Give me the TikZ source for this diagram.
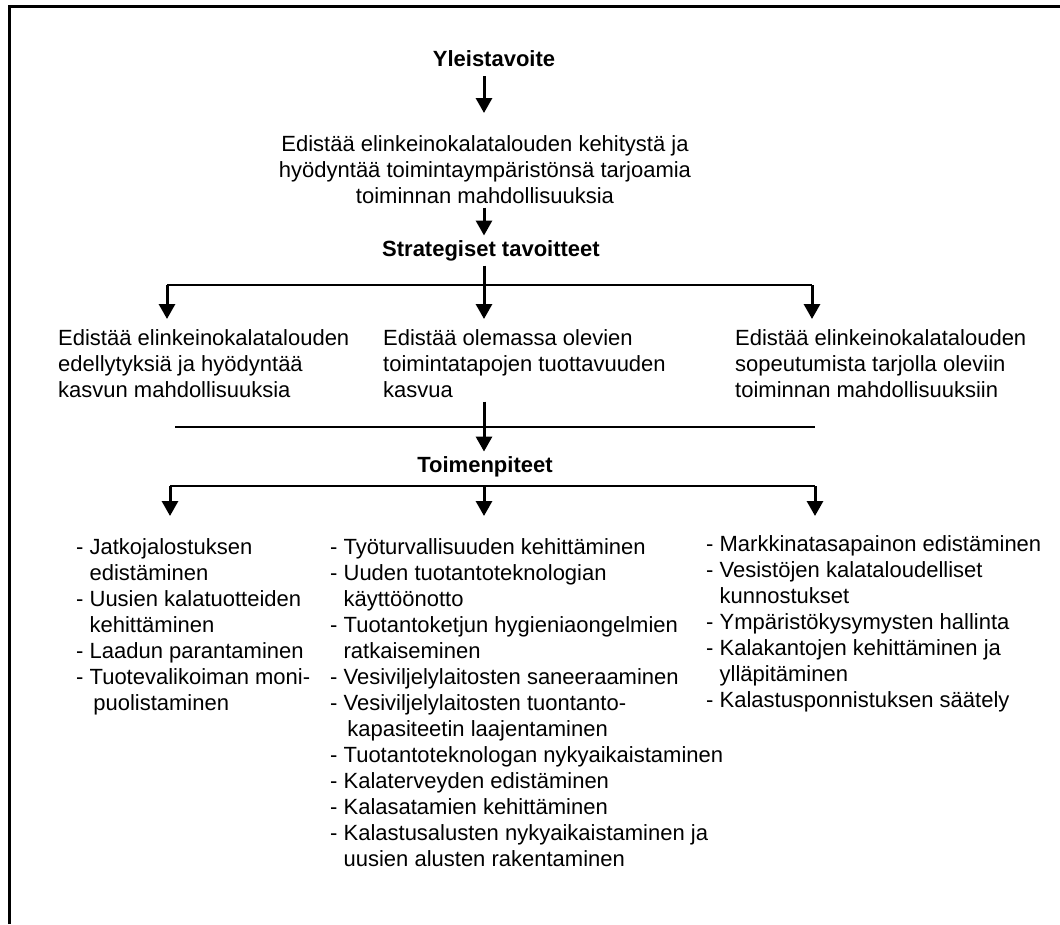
\documentclass[tikz,border=0pt]{standalone}
\usepackage{fontspec}
\setmainfont{Liberation Sans}
\usetikzlibrary{positioning, arrows.meta}

\begin{document}
\begin{tikzpicture}[x=1pt, y=-1pt,
                every node/.style={inner sep=0pt, font=\fontsize{22}{26}\selectfont},
                head/.style={font=\fontsize{22}{26}\selectfont\bfseries},
                goal/.style={align=center, anchor=north},
                block/.style={align=left, anchor=north west},
                arrow/.style={-{Triangle[length=15pt, width=16pt]}, line width=3pt},
                bus/.style={line width=2pt}
            ]
            \useasboundingbox (0,0) rectangle (1060,924);
            \draw[line width=3pt] (9.5,924) -- (9.5,6.5) -- (1060,6.5);

            % yleistavoite
            \node[head] (yleis) at (494,59) {Yleistavoite};
            \node[goal] (yleistavoite) at (485,135) {Edistää elinkeinokalatalouden kehitystä ja\\
                hyödyntää toimintaympäristönsä tarjoamia\\ toiminnan mahdollisuuksia};
            \node[head] (strat) at (491,251) {Strategiset tavoitteet};

            % strategiset tavoitteet
            \coordinate (sbus) at (484,285);
            \coordinate (sbusL) at (167,285);
            \coordinate (sbusR) at (812,285);
            \node[block] (edell) at (58,329) {Edistää elinkeinokalatalouden\\ edellytyksiä ja hyödyntää\\ kasvun mahdollisuuksia};
            \node[block] (tuott) at (383,329) {Edistää olemassa olevien\\ toimintatapojen tuottavuuden\\ kasvua};
            \node[block] (sopeu) at (735,329) {Edistää elinkeinokalatalouden\\ sopeutumista tarjolla oleviin\\ toiminnan mahdollisuuksiin};

            % toimenpiteet
            \coordinate (mbus) at (484,427);
            \coordinate (mbusL) at (175,427);
            \coordinate (mbusR) at (815,427);
            \node[head] (toimen) at (485,467) {Toimenpiteet};
            \coordinate (tbus) at (484,486);
            \coordinate (tbusL) at (170,486);
            \coordinate (tbusR) at (815,486);
            \node[block] (jalostus) at (76,538) {- Jatkojalostuksen\\ \phantom{-} edistäminen\\
                - Uusien kalatuotteiden\\ \phantom{-} kehittäminen\\ - Laadun parantaminen\\
                - Tuotevalikoiman moni-\\ \phantom{-}\ \,puolistaminen};
            \node[block] (tuotanto) at (330,538) {- Työturvallisuuden kehittäminen\\
                - Uuden tuotantoteknologian\\ \phantom{-} käyttöönotto\\
                - Tuotantoketjun hygieniaongelmien\\ \phantom{-} ratkaiseminen\\
                - Vesiviljelylaitosten saneeraaminen\\ - Vesiviljelylaitosten tuontanto-\\
                \phantom{-}\ \,kapasiteetin laajentaminen\\ - Tuotantoteknologan nykyaikaistaminen\\
                - Kalaterveyden edistäminen\\ - Kalasatamien kehittäminen\\
                - Kalastusalusten nykyaikaistaminen ja\\ \phantom{-} uusien alusten rakentaminen};
            \node[block] (markkina) at (706,535) {- Markkinatasapainon edistäminen\\
                - Vesistöjen kalataloudelliset\\ \phantom{-} kunnostukset\\
                - Ympäristökysymysten hallinta\\ - Kalakantojen kehittäminen ja\\
                \phantom{-} ylläpitäminen\\ - Kalastusponnistuksen säätely};

            \draw[arrow, shorten <=9pt, shorten >=22pt] (yleis.south -| sbus) -- (yleistavoite.north -| sbus);
            \draw[arrow, shorten <=4pt, shorten >=5pt] (yleistavoite.south -| sbus) -- (strat.north -| sbus);
            \draw[arrow, shorten <=4pt, shorten >=10pt] (strat.south -| sbus) -- (tuott.north -| sbus);
            \draw[bus] (sbusL) -- (sbusR);
            \draw[arrow, shorten >=10pt] (sbusL) -- (sbusL |- edell.north);
            \draw[arrow, shorten >=10pt] (sbusR) -- (sbusR |- sopeu.north);
            \draw[bus] (mbusL) -- (mbusR);
            \draw[arrow, shorten <=4pt, shorten >=5pt] (tuott.south -| sbus) -- (toimen.north -| sbus);
            \draw[bus] (tbusL) -- (tbusR);
            \draw[arrow, shorten >=22pt] (tbusL) -- (tbusL |- jalostus.north);
            \draw[arrow, shorten >=22pt] (tbus) -- (tbus |- tuotanto.north);
            \draw[arrow, shorten >=22pt] (tbusR) -- (tbusR |- tuotanto.north);
        \end{tikzpicture}
\end{document}
